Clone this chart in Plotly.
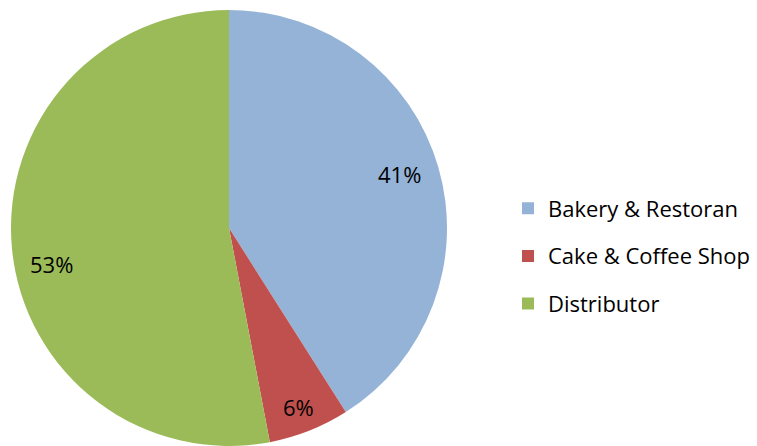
import math
import plotly.graph_objects as go

# Sales share by customer channel
channels = ["Bakery & Restoran", "Cake & Coffee Shop", "Distributor"]
shares = [41, 6, 53]
colors = ["#95B3D7", "#C0504D", "#9BBB59"]

W, H = 757, 446
cx, cy, R = 229, 228, 218
# radial position of each percentage label (fraction of radius) and a small angular nudge in degrees
label_r = [0.82, 0.88, 0.83]
label_nudge = [-1.5, 0.5, -6.0]
font_family = "'Open Sans', Lato, sans-serif"

fig = go.Figure()

fig.add_trace(go.Pie(
    labels=channels,
    values=shares,
    marker=dict(colors=colors, line=dict(width=0)),
    sort=False,
    direction="clockwise",
    rotation=0,
    textinfo="none",
    hoverinfo="label+percent",
    showlegend=False,
    domain=dict(x=[(cx - R) / W, (cx + R) / W], y=[(H - cy - R) / H, (H - cy + R) / H]),
))

# Percentage labels placed around each slice's mid-angle
total = sum(shares)
acc = 0
for v, rf, nd in zip(shares, label_r, label_nudge):
    mid = math.radians((acc + v / 2) / total * 360 + nd)
    acc += v
    px = cx + rf * R * math.sin(mid)
    py = cy - rf * R * math.cos(mid)
    fig.add_annotation(
        x=px / W, y=1 - py / H, xref="paper", yref="paper",
        xanchor="center", yanchor="middle",
        text=f"{round(v / total * 100)}%", showarrow=False,
        font=dict(family=font_family, size=22, color="#000000"),
    )

# Legend entries, one group each so they can be spaced apart
for name, col in zip(channels, colors):
    fig.add_trace(go.Scatter(
        x=[None], y=[None], mode="markers", name=name, legendgroup=name,
        marker=dict(symbol="square", size=10, color=col),
    ))

fig.update_layout(
    width=W, height=H,
    margin=dict(l=0, r=0, t=0, b=0),
    paper_bgcolor="white", plot_bgcolor="white",
    xaxis=dict(visible=False), yaxis=dict(visible=False),
    legend=dict(
        x=508 / W, y=1 - 256 / H, xanchor="left", yanchor="middle",
        font=dict(family=font_family, size=22, color="#000000"),
        tracegroupgap=16, itemsizing="constant",
        bgcolor="rgba(0,0,0,0)",
    ),
)

fig.write_html("out.html")
